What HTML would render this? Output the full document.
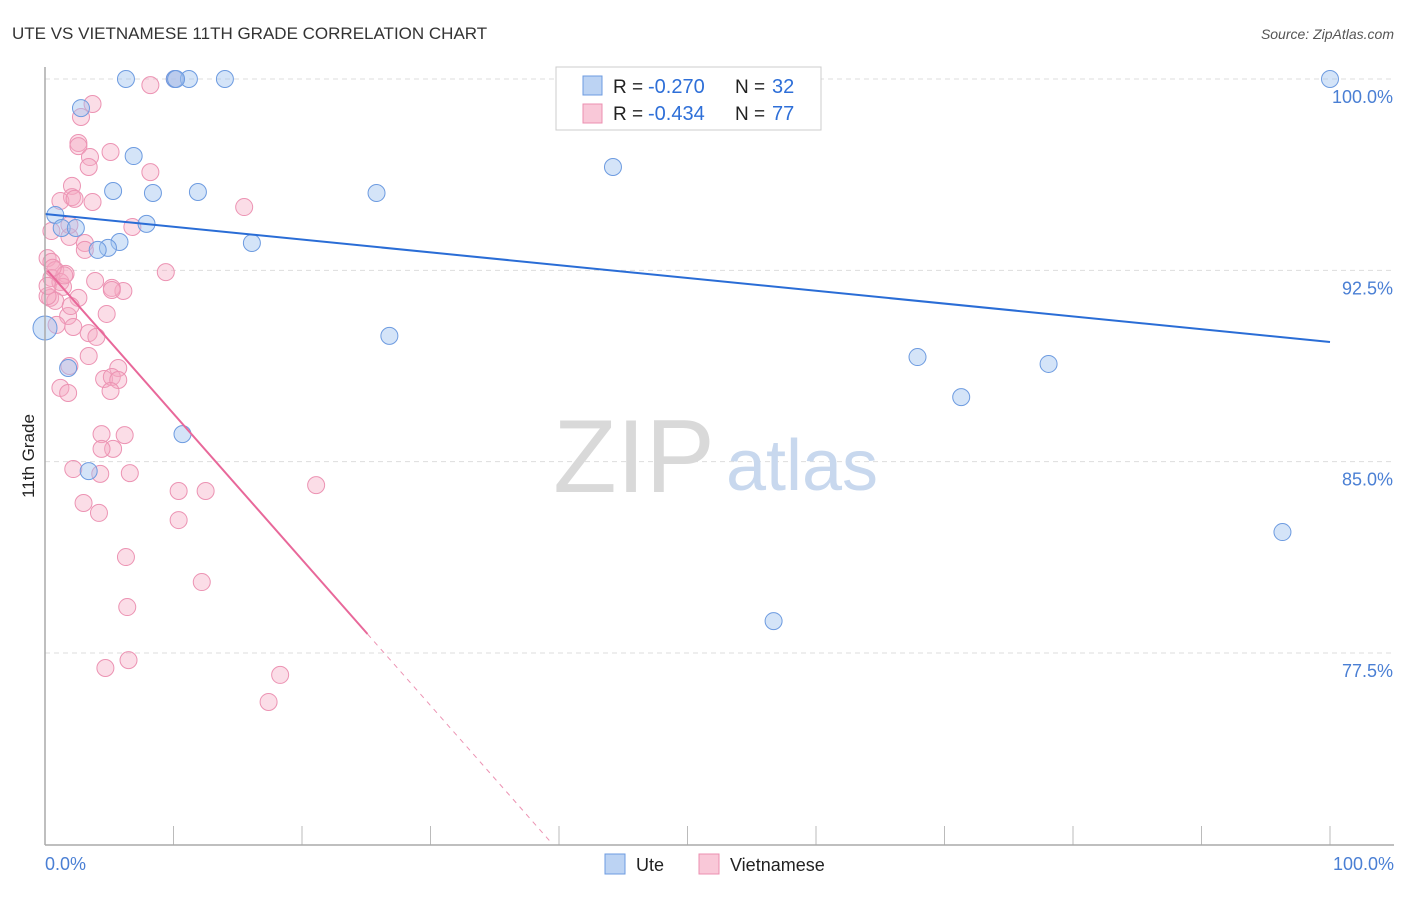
<!DOCTYPE html>
<html><head><meta charset="utf-8"><style>
body{margin:0;background:#fff;font-family:"Liberation Sans",sans-serif;}
svg text{font-family:"Liberation Sans",sans-serif;}
</style></head><body>
<svg id="c" width="1406" height="892" xmlns="http://www.w3.org/2000/svg">
<text x="12" y="39" font-size="17" fill="#333">UTE VS VIETNAMESE 11TH GRADE CORRELATION CHART</text>
<text x="1394" y="39" font-size="14" fill="#555" text-anchor="end" font-style="italic">Source: ZipAtlas.com</text>
<g id="grid"></g>
<text x="634" y="492" font-size="104" fill="#d9d9d9" font-family="Liberation Serif" text-anchor="middle">ZIP</text>
<text x="802" y="490" font-size="72" fill="#c8d8ee" text-anchor="middle">atlas</text>
<g id="pts"></g>
<g id="lines"></g>
<line x1="45" y1="67" x2="45" y2="845" stroke="#aaa" stroke-width="1.5"/>
<line x1="45" y1="845" x2="1394" y2="845" stroke="#aaa" stroke-width="1.5"/>
<text x="34" y="456" font-size="17" fill="#222" text-anchor="middle" transform="rotate(-90 34 456)">11th Grade</text>
<text x="45" y="870" font-size="18" fill="#4a7fd4">0.0%</text>
<text x="1394" y="870" font-size="18" fill="#4a7fd4" text-anchor="end">100.0%</text>
<g>
<rect x="556" y="67" width="265" height="63" fill="#fff" stroke="#ccc"/>
<rect x="583" y="76" width="19" height="19" fill="#bcd3f3" stroke="#6d9be0"/>
<rect x="583" y="104" width="19" height="19" fill="#f9c8d8" stroke="#ec8fb0"/>
<text x="613" y="93" font-size="19" fill="#222">R =</text>
<text x="648" y="93" font-size="20" fill="#2e6fd8">-0.270</text>
<text x="735" y="93" font-size="19" fill="#222">N =</text>
<text x="772" y="93" font-size="20" fill="#2e6fd8">32</text>
<text x="613" y="120" font-size="19" fill="#222">R =</text>
<text x="648" y="120" font-size="20" fill="#2e6fd8">-0.434</text>
<text x="735" y="120" font-size="19" fill="#222">N =</text>
<text x="772" y="120" font-size="20" fill="#2e6fd8">77</text>
</g>
<g>
<rect x="605" y="854" width="20" height="20" fill="#bcd3f3" stroke="#6d9be0"/>
<text x="636" y="871" font-size="18" fill="#222">Ute</text>
<rect x="699" y="854" width="20" height="20" fill="#f9c8d8" stroke="#ec8fb0"/>
<text x="730" y="871" font-size="18" fill="#222">Vietnamese</text>
</g>
</svg>
<script>
const yTicks=[100,92.5,85,77.5];
const yTickLabels=["100.0%","92.5%","85.0%","77.5%"];
const uteX=[6.3,10.1,11.2,14.0,100,52.4,2.8,6.9,5.3,8.4,11.9,25.8,44.2,0.8,7.9,1.3,2.4,5.8,4.9,4.1,16.1,26.8,0,1.8,10.7,3.4,67.9,71.3,78.1,96.3,56.7,10.2];
const uteY=[100,100,100,100,100,100,98.86,96.98,95.61,95.53,95.57,95.53,96.55,94.67,94.32,94.16,94.16,93.61,93.38,93.3,93.57,89.93,90.24,88.67,86.08,84.63,89.1,87.53,88.83,82.24,78.75,100];
const vietX=[10.1,8.2,3.7,2.8,2.6,2.6,5.1,3.5,3.4,8.2,2.1,2.1,1.2,2.3,3.7,15.5,6.8,1.9,3.1,3.1,0.2,0.5,9.4,0.8,1.6,0.5,1.2,3.9,1.4,6.1,5.2,0.4,2.6,0.8,1.8,4.8,0.9,2.2,3.4,4.0,3.4,5.7,4.6,5.2,5.7,1.9,1.2,1.8,5.1,4.4,6.2,5.3,4.4,2.2,6.6,4.3,10.4,12.5,21.1,3.0,4.2,10.4,6.3,12.2,6.4,6.5,4.7,18.3,17.4,0.2,0.2,0.5,1.9,5.2,1.5,2.0,0.6];
const vietY=[100,99.76,99.02,98.51,97.49,97.37,97.14,96.94,96.55,96.35,95.81,95.37,95.22,95.3,95.18,94.98,94.2,93.81,93.57,93.3,92.98,92.83,92.43,92.51,92.36,92.2,92.04,92.08,91.85,91.69,91.81,91.42,91.42,91.3,90.71,90.79,90.36,90.28,90.04,89.89,89.14,88.67,88.24,88.32,88.2,88.75,87.89,87.69,87.77,86.08,86.04,85.5,85.5,84.71,84.55,84.52,83.85,83.85,84.08,83.38,82.99,82.71,81.26,80.28,79.3,77.22,76.91,76.64,75.58,91.49,91.89,94.04,94.28,91.73,92.3,91.1,92.6];
const uteLine=[94.71,89.69];
const vietLine=[92.6,-0.572];
const vietSolidEnd=25.1, vietDashEnd=39.3;
const X=v=>45+v*12.85, Y=v=>79+(100-v)*25.51;
const ns="http://www.w3.org/2000/svg";
function mk(t,a,p){const e=document.createElementNS(ns,t);for(const k in a)e.setAttribute(k,a[k]);p.appendChild(e);return e;}
const g=document.getElementById('grid');
yTicks.forEach((t,i)=>{
 const l=mk('line',{x1:45,x2:1394,y1:Y(t),y2:Y(t),stroke:'#ddd','stroke-dasharray':'5,4'},g);
 
 
 const tx=mk('text',{x:1393,y:Y(t)+24,'font-size':18,fill:'#4a7fd4','text-anchor':'end'},g);
 tx.textContent=yTickLabels[i];
 
 
});
for(let i=1;i<=10;i++){const x=45+i*128.5;const l=mk('line',{x1:x,x2:x,y1:826,y2:845,stroke:'#bbb'},g);
 
 }
const p=document.getElementById('pts');
vietX.forEach((v,i)=>{const c=mk('circle',{cx:X(v),cy:Y(vietY[i]),r:8.5,fill:'rgba(246,170,196,0.4)',stroke:'#ec93b3','stroke-width':1},p);
 
 });
uteX.forEach((v,i)=>{const c=mk('circle',{cx:X(v),cy:Y(uteY[i]),r:v==0?12:8.5,fill:'rgba(160,196,240,0.45)',stroke:'#6d9be0','stroke-width':1},p);
 
 });
const L=document.getElementById('lines');
const b=mk('line',{x1:X(0),y1:Y(uteLine[0]),x2:X(100),y2:Y(uteLine[1]),stroke:'#2a6dd6','stroke-width':2},L);


const vy=x=>vietLine[0]+vietLine[1]*x;
const s=mk('line',{x1:X(0.2),y1:Y(vy(0.2)),x2:X(vietSolidEnd),y2:Y(vy(vietSolidEnd)),stroke:'#e8689a','stroke-width':2},L);


const d=mk('line',{x1:X(vietSolidEnd),y1:Y(vy(vietSolidEnd)),x2:X(vietDashEnd),y2:Y(vy(vietDashEnd)),stroke:'#ec93b3','stroke-width':1,'stroke-dasharray':'5,5'},L);


</script>
</body></html>
